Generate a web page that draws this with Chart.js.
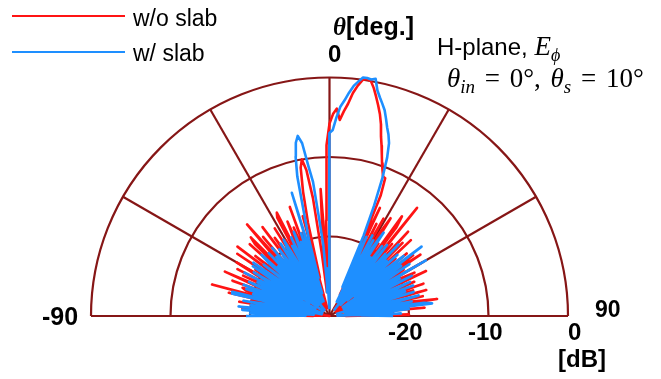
<!DOCTYPE html>
<html>
<head>
<meta charset="utf-8">
<script src="https://cdn.jsdelivr.net/npm/chart.js@4.4.1/dist/chart.umd.min.js"></script>
<style>
  body { margin: 0; background: #fff; }
  #wrap { position: relative; width: 661px; height: 379px; overflow: hidden; }
  canvas { position: absolute; left: 0; top: 0; }
  .t { position: absolute; line-height: 1; white-space: nowrap; color: #000; font-family: "Liberation Sans", Arial, sans-serif; }
  .b { font-weight: bold; }
  .m { font-family: "Liberation Serif", "DejaVu Serif", serif; font-style: italic; }
  .n { font-family: "Liberation Serif", "DejaVu Serif", serif; font-style: normal; }
  .leg { position: absolute; height: 0; border-top: 2.5px solid; }
</style>
</head>
<body>
<div id="wrap">
  <canvas id="patternChart" width="661" height="379"></canvas>

  <div class="leg" style="left:12px; top:15px; width:113px; border-color:#ff1414;"></div>
  <div class="t" style="left:133px; top:7px; font-size:23px;">w/o slab</div>
  <div class="leg" style="left:12px; top:51px; width:113px; border-color:#1e8fff;"></div>
  <div class="t" style="left:133px; top:42px; font-size:23px;">w/ slab</div>

  <div class="t b" style="left:333px; top:14px; font-size:25px;"><span class="m">θ</span>[deg.]</div>
  <div class="t b" style="left:328px; top:42px; font-size:24px;">0</div>
  <div class="t" style="left:437px; top:33px; font-size:24px;">H-plane, <span class="m" style="font-size:27px;">E</span><sub class="m" style="font-size:18px;">ϕ</sub></div>
  <div class="t n" style="left:447px; top:65px; font-size:27px; word-spacing:3px;"><span class="m">θ</span><sub class="m" style="font-size:19px;">in</sub> = 0°, <span class="m">θ</span><sub class="m" style="font-size:19px;">s</sub> = 10°</div>

  <div class="t b" style="left:42px; top:304px; font-size:25px;">-90</div>
  <div class="t b" style="left:595px; top:298px; font-size:23px;">90</div>
  <div class="t b" style="left:388px; top:320px; font-size:24px;">-20</div>
  <div class="t b" style="left:468px; top:320px; font-size:24px;">-10</div>
  <div class="t b" style="left:568px; top:320px; font-size:24px;">0</div>
  <div class="t b" style="left:558px; top:347px; font-size:24px;">[dB]</div>
</div>

<script>
// 角度范围 -90..90，步长 1 度
const thetaStart = -90;
const thetaStep = 1;

// w/o slab (dB)，从 -90 度到 90 度
const redDb = [
  -28, -24, -29, -21, -28, -19, -27, -22, -30, -18.5,
  -27, -20, -28, -17, -29, -14.7, -26, -19, -18.5, -28,
  -17, -27, -21, -15.7, -29, -18, -26, -17, -28, -20,
  -16.5, -27, -19, -29, -16, -24, -27, -15.5, -28, -18,
  -22, -29, -16.5, -26, -17, -16, -28, -20, -14.5, -27,
  -17, -25, -29, -16, -26, -18, -22, -28, -17, -26,
  -19, -29, -16, -15.4, -27, -20, -17, -29, -18, -26,
  -15.4, -28, -19, -23, -29, -17, -25, -18, -14, -11,
  -10, -11.4, -15, -22, -27, -20, -14, -24, -18, -8.5,
  -5.8, -4.6, -3.9, -5.3, -4.2, -3.2, -1.8, -0.8, 0, 0.2,
  0, -0.8, -1.8, -2.8, -3.8, -5.0, -6.5, -7.6, -8.7, -9.7,
  -10.5, -11.2, -11.3, -13.5, -21, -15, -27, -17, -23, -16,
  -28, -18, -15.5, -26, -19, -29, -14.5, -16, -27, -12.5,
  -24, -18, -28, -15.5, -22, -17, -29, -16, -25, -19,
  -27, -17.5, -23, -28, -17, -21, -16.2, -29, -19, -25,
  -16.5, -27, -20, -18, -29, -16.6, -24, -28, -18.5, -22,
  -27, -17.5, -25, -19, -29, -17.4, -23, -28, -18, -26,
  -19.5, -16.3, -28, -21, -25, -18, -29, -22, -27, -20, -28
];

// w/ slab (dB)
const blueDb = [
  -19.5, -27, -20, -25, -19, -28, -18.5, -24, -20, -27,
  -19, -23, -29, -17.5, -17.4, -26, -20, -28, -19, -24,
  -18.5, -29, -21, -19, -27, -20, -25, -18, -28, -21,
  -19, -26, -22, -18.5, -27, -18.3, -24, -29, -19.5, -23,
  -27, -20, -18.5, -28, -21, -25, -19, -27, -20, -23,
  -18.8, -29, -21, -19.5, -26, -22, -19, -28, -20, -18.8,
  -24, -28, -20, -25, -19, -27, -21, -18.5, -28, -20,
  -24, -19, -27, -13.8, -25, -20, -17, -12, -9.5, -7.8,
  -7, -8, -11, -13, -18, -21, -27, -24, -29, -28,
  -7, -6.6, -5, -3.6, -2.8, -1.8, -0.9, -0.3, 0.3, 0.3,
  0.2, 0.4, -1.0, -1.8, -2.5, -3.2, -4.2, -5.2, -6, -7,
  -8.8, -11.5, -15, -19, -26, -19, -22, -28, -18.5, -25,
  -19, -27, -20, -17.5, -28, -21, -24, -19, -29, -18.5,
  -22, -27, -19.5, -25, -17.5, -28, -20, -23, -18.5, -27,
  -21, -18, -26, -15.5, -24, -19, -28, -18, -22, -27,
  -16, -25, -20, -28, -18.5, -23, -27, -19, -21, -28,
  -18.8, -25, -20, -29, -19, -24, -27, -18.5, -21, -28,
  -19.5, -25, -18, -17, -27, -20, -23, -29, -21, -26, -22
];

const rMinDb = -30;          // 圆心
const ringDb = [-20, -10, 0]; // 圆环
const spokeDeg = [-60, -30, 0, 30, 60];
const gridColor = '#861616';

// 极坐标 -> 直角坐标 (x 向右, y 向上)
function toXY(dbList) {
    return dbList.map((db, i) => {
        const t = (thetaStart + i * thetaStep) * Math.PI / 180;
        const r = Math.max(0, db - rMinDb);
        return { x: r * Math.sin(t), y: r * Math.cos(t) };
    });
}

const polarGrid = {
    id: 'polarGrid',
    beforeDatasetsDraw(chart) {
        const { ctx, scales: { x, y } } = chart;
        const cx = x.getPixelForValue(0);
        const cy = y.getPixelForValue(0);
        const pr = v => x.getPixelForValue(v) - cx;
        const R = pr(0 - rMinDb);
        ctx.save();
        ctx.strokeStyle = gridColor;
        ctx.lineWidth = 2.2;
        ringDb.forEach(db => {
            ctx.beginPath();
            ctx.arc(cx, cy, pr(db - rMinDb), Math.PI, 2 * Math.PI);
            ctx.stroke();
        });
        ctx.beginPath();
        ctx.moveTo(cx - R, cy);
        ctx.lineTo(cx + R, cy);
        ctx.stroke();
        spokeDeg.forEach(d => {
            const t = d * Math.PI / 180;
            ctx.beginPath();
            ctx.moveTo(cx, cy);
            ctx.lineTo(cx + R * Math.sin(t), cy - R * Math.cos(t));
            ctx.stroke();
        });
        ctx.restore();
    }
};

const ctx = document.getElementById('patternChart').getContext('2d');
new Chart(ctx, {
    type: 'scatter',
    data: {
        datasets: [
            { label: 'w/o slab', data: toXY(redDb), borderColor: '#ff1414', order: 1 },
            { label: 'w/ slab', data: toXY(blueDb), borderColor: '#1e8fff', order: 0 }
        ]
    },
    options: {
        responsive: false,
        animation: false,
        layout: { padding: { left: 91, right: 93, top: 61.6, bottom: 63 } },
        datasets: {
            scatter: {
                showLine: true,
                pointRadius: 0,
                borderWidth: 2.6,
                borderJoinStyle: 'round',
                clip: false
            }
        },
        scales: {
            x: { type: 'linear', min: -30, max: 30, display: false },
            y: { type: 'linear', min: 0, max: 32, display: false }
        },
        plugins: { legend: { display: false }, tooltip: { enabled: false } }
    },
    plugins: [polarGrid]
});
</script>
</body>
</html>
